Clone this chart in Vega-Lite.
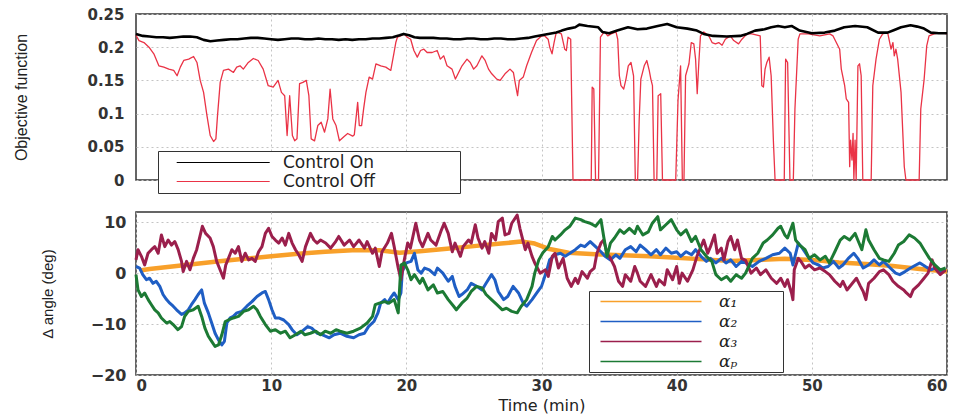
{
"$schema": "https://vega.github.io/schema/vega-lite/v6.json",
"background": "white",
"padding": {"left": 12, "top": 6, "right": 5, "bottom": 0},
"spacing": 32,
"bounds": "flush",
"config": {
  "view": {"stroke": "#333", "strokeWidth": 1.5},
  "axis": {"domain": false, "ticks": false, "grid": true, "gridColor": "#c4c4c4", "gridDash": [2, 3], "labelFont": "DejaVu Sans", "labelFontWeight": "bold", "labelFontSize": 15, "labelColor": "#333", "titleFont": "Liberation Sans", "titleFontWeight": "normal", "titleColor": "#222"}
},
"resolve": {"scale": {"color": "independent"}, "legend": {"color": "independent"}},
"datasets": {
"top": [
{"t":0,"v":0.22,"s":"Control On"},{"t":0.5,"v":0.217,"s":"Control On"},{"t":1,"v":0.216,"s":"Control On"},{"t":1.5,"v":0.215,"s":"Control On"},{"t":2,"v":0.215,"s":"Control On"},{"t":2.5,"v":0.214,"s":"Control On"},{"t":3,"v":0.215,"s":"Control On"},{"t":3.5,"v":0.216,"s":"Control On"},{"t":4,"v":0.216,"s":"Control On"},{"t":4.5,"v":0.215,"s":"Control On"},{"t":5,"v":0.211,"s":"Control On"},{"t":5.5,"v":0.209,"s":"Control On"},{"t":6,"v":0.21,"s":"Control On"},{"t":6.5,"v":0.211,"s":"Control On"},{"t":7,"v":0.212,"s":"Control On"},{"t":7.5,"v":0.212,"s":"Control On"},{"t":8,"v":0.213,"s":"Control On"},{"t":8.5,"v":0.214,"s":"Control On"},{"t":9,"v":0.214,"s":"Control On"},{"t":9.5,"v":0.213,"s":"Control On"},{"t":10,"v":0.212,"s":"Control On"},{"t":10.5,"v":0.211,"s":"Control On"},{"t":11,"v":0.212,"s":"Control On"},{"t":11.5,"v":0.213,"s":"Control On"},{"t":12,"v":0.213,"s":"Control On"},{"t":12.5,"v":0.212,"s":"Control On"},{"t":13,"v":0.212,"s":"Control On"},{"t":13.5,"v":0.213,"s":"Control On"},{"t":14,"v":0.212,"s":"Control On"},{"t":14.5,"v":0.212,"s":"Control On"},{"t":15,"v":0.211,"s":"Control On"},{"t":15.5,"v":0.212,"s":"Control On"},{"t":16,"v":0.211,"s":"Control On"},{"t":16.5,"v":0.212,"s":"Control On"},{"t":17,"v":0.212,"s":"Control On"},{"t":17.5,"v":0.213,"s":"Control On"},{"t":18,"v":0.213,"s":"Control On"},{"t":18.5,"v":0.214,"s":"Control On"},{"t":19,"v":0.215,"s":"Control On"},{"t":19.5,"v":0.218,"s":"Control On"},{"t":19.8,"v":0.22,"s":"Control On"},{"t":20.2,"v":0.218,"s":"Control On"},{"t":20.6,"v":0.215,"s":"Control On"},{"t":21,"v":0.214,"s":"Control On"},{"t":21.5,"v":0.214,"s":"Control On"},{"t":22,"v":0.214,"s":"Control On"},{"t":22.5,"v":0.213,"s":"Control On"},{"t":23,"v":0.213,"s":"Control On"},{"t":23.5,"v":0.212,"s":"Control On"},{"t":24,"v":0.212,"s":"Control On"},{"t":24.5,"v":0.213,"s":"Control On"},{"t":25,"v":0.213,"s":"Control On"},{"t":25.5,"v":0.212,"s":"Control On"},{"t":26,"v":0.212,"s":"Control On"},{"t":26.5,"v":0.213,"s":"Control On"},{"t":27,"v":0.213,"s":"Control On"},{"t":27.5,"v":0.212,"s":"Control On"},{"t":28,"v":0.212,"s":"Control On"},{"t":28.5,"v":0.213,"s":"Control On"},{"t":29,"v":0.214,"s":"Control On"},{"t":29.5,"v":0.216,"s":"Control On"},{"t":30,"v":0.218,"s":"Control On"},{"t":30.5,"v":0.22,"s":"Control On"},{"t":31.1,"v":0.222,"s":"Control On"},{"t":31.5,"v":0.225,"s":"Control On"},{"t":32,"v":0.228,"s":"Control On"},{"t":32.5,"v":0.23,"s":"Control On"},{"t":32.8,"v":0.234,"s":"Control On"},{"t":33.4,"v":0.232,"s":"Control On"},{"t":34.2,"v":0.23,"s":"Control On"},{"t":34.5,"v":0.223,"s":"Control On"},{"t":35,"v":0.221,"s":"Control On"},{"t":35.6,"v":0.225,"s":"Control On"},{"t":36.4,"v":0.23,"s":"Control On"},{"t":37.1,"v":0.227,"s":"Control On"},{"t":37.8,"v":0.228,"s":"Control On"},{"t":38.6,"v":0.232,"s":"Control On"},{"t":39.3,"v":0.235,"s":"Control On"},{"t":40,"v":0.23,"s":"Control On"},{"t":40.8,"v":0.228,"s":"Control On"},{"t":41.5,"v":0.225,"s":"Control On"},{"t":42,"v":0.22,"s":"Control On"},{"t":42.7,"v":0.217,"s":"Control On"},{"t":43.7,"v":0.216,"s":"Control On"},{"t":44.7,"v":0.217,"s":"Control On"},{"t":45.2,"v":0.22,"s":"Control On"},{"t":45.8,"v":0.225,"s":"Control On"},{"t":46.5,"v":0.227,"s":"Control On"},{"t":47,"v":0.23,"s":"Control On"},{"t":47.5,"v":0.232,"s":"Control On"},{"t":48,"v":0.23,"s":"Control On"},{"t":48.5,"v":0.232,"s":"Control On"},{"t":49.1,"v":0.225,"s":"Control On"},{"t":50,"v":0.221,"s":"Control On"},{"t":50.95,"v":0.222,"s":"Control On"},{"t":51.7,"v":0.225,"s":"Control On"},{"t":52.4,"v":0.23,"s":"Control On"},{"t":53.2,"v":0.232,"s":"Control On"},{"t":54.1,"v":0.23,"s":"Control On"},{"t":54.9,"v":0.222,"s":"Control On"},{"t":55.6,"v":0.222,"s":"Control On"},{"t":56.1,"v":0.226,"s":"Control On"},{"t":56.6,"v":0.23,"s":"Control On"},{"t":57.3,"v":0.233,"s":"Control On"},{"t":57.8,"v":0.231,"s":"Control On"},{"t":58.3,"v":0.228,"s":"Control On"},{"t":58.8,"v":0.222,"s":"Control On"},{"t":59.4,"v":0.221,"s":"Control On"},{"t":60,"v":0.221,"s":"Control On"},
{"t":0,"v":0.218,"s":"Control Off"},{"t":0.22,"v":0.21,"s":"Control Off"},{"t":0.59,"v":0.207,"s":"Control Off"},{"t":0.96,"v":0.2,"s":"Control Off"},{"t":1.32,"v":0.19,"s":"Control Off"},{"t":1.69,"v":0.172,"s":"Control Off"},{"t":2.06,"v":0.17,"s":"Control Off"},{"t":2.43,"v":0.167,"s":"Control Off"},{"t":2.79,"v":0.165,"s":"Control Off"},{"t":3.04,"v":0.157,"s":"Control Off"},{"t":3.28,"v":0.17,"s":"Control Off"},{"t":3.53,"v":0.18,"s":"Control Off"},{"t":3.9,"v":0.182,"s":"Control Off"},{"t":4.26,"v":0.186,"s":"Control Off"},{"t":4.51,"v":0.177,"s":"Control Off"},{"t":4.75,"v":0.15,"s":"Control Off"},{"t":5,"v":0.132,"s":"Control Off"},{"t":5.25,"v":0.097,"s":"Control Off"},{"t":5.49,"v":0.067,"s":"Control Off"},{"t":5.74,"v":0.058,"s":"Control Off"},{"t":5.91,"v":0.062,"s":"Control Off"},{"t":6.03,"v":0.097,"s":"Control Off"},{"t":6.23,"v":0.147,"s":"Control Off"},{"t":6.47,"v":0.165,"s":"Control Off"},{"t":6.84,"v":0.167,"s":"Control Off"},{"t":7.21,"v":0.162,"s":"Control Off"},{"t":7.45,"v":0.17,"s":"Control Off"},{"t":7.7,"v":0.172,"s":"Control Off"},{"t":7.94,"v":0.167,"s":"Control Off"},{"t":8.31,"v":0.177,"s":"Control Off"},{"t":8.68,"v":0.183,"s":"Control Off"},{"t":9.04,"v":0.18,"s":"Control Off"},{"t":9.41,"v":0.167,"s":"Control Off"},{"t":9.78,"v":0.142,"s":"Control Off"},{"t":10.15,"v":0.14,"s":"Control Off"},{"t":10.51,"v":0.15,"s":"Control Off"},{"t":10.76,"v":0.132,"s":"Control Off"},{"t":11,"v":0.127,"s":"Control Off"},{"t":11.18,"v":0.067,"s":"Control Off"},{"t":11.37,"v":0.127,"s":"Control Off"},{"t":11.57,"v":0.067,"s":"Control Off"},{"t":11.74,"v":0.059,"s":"Control Off"},{"t":11.91,"v":0.062,"s":"Control Off"},{"t":12.1,"v":0.145,"s":"Control Off"},{"t":12.35,"v":0.147,"s":"Control Off"},{"t":12.6,"v":0.15,"s":"Control Off"},{"t":12.79,"v":0.127,"s":"Control Off"},{"t":12.96,"v":0.062,"s":"Control Off"},{"t":13.21,"v":0.059,"s":"Control Off"},{"t":13.45,"v":0.082,"s":"Control Off"},{"t":13.7,"v":0.087,"s":"Control Off"},{"t":13.95,"v":0.072,"s":"Control Off"},{"t":14.19,"v":0.092,"s":"Control Off"},{"t":14.36,"v":0.137,"s":"Control Off"},{"t":14.56,"v":0.092,"s":"Control Off"},{"t":14.8,"v":0.082,"s":"Control Off"},{"t":15.05,"v":0.059,"s":"Control Off"},{"t":15.42,"v":0.066,"s":"Control Off"},{"t":15.66,"v":0.07,"s":"Control Off"},{"t":16.03,"v":0.066,"s":"Control Off"},{"t":16.15,"v":0.068,"s":"Control Off"},{"t":16.4,"v":0.117,"s":"Control Off"},{"t":16.52,"v":0.082,"s":"Control Off"},{"t":16.69,"v":0.082,"s":"Control Off"},{"t":16.84,"v":0.107,"s":"Control Off"},{"t":17.01,"v":0.132,"s":"Control Off"},{"t":17.25,"v":0.155,"s":"Control Off"},{"t":17.5,"v":0.152,"s":"Control Off"},{"t":17.75,"v":0.175,"s":"Control Off"},{"t":18.11,"v":0.172,"s":"Control Off"},{"t":18.48,"v":0.17,"s":"Control Off"},{"t":18.85,"v":0.165,"s":"Control Off"},{"t":19.09,"v":0.192,"s":"Control Off"},{"t":19.22,"v":0.207,"s":"Control Off"},{"t":19.34,"v":0.215,"s":"Control Off"},{"t":19.58,"v":0.217,"s":"Control Off"},{"t":19.83,"v":0.22,"s":"Control Off"},{"t":20.07,"v":0.215,"s":"Control Off"},{"t":20.32,"v":0.212,"s":"Control Off"},{"t":20.56,"v":0.195,"s":"Control Off"},{"t":20.81,"v":0.185,"s":"Control Off"},{"t":21.05,"v":0.195,"s":"Control Off"},{"t":21.3,"v":0.197,"s":"Control Off"},{"t":21.54,"v":0.192,"s":"Control Off"},{"t":21.91,"v":0.192,"s":"Control Off"},{"t":22.28,"v":0.195,"s":"Control Off"},{"t":22.52,"v":0.182,"s":"Control Off"},{"t":22.77,"v":0.187,"s":"Control Off"},{"t":23.01,"v":0.172,"s":"Control Off"},{"t":23.38,"v":0.167,"s":"Control Off"},{"t":23.63,"v":0.152,"s":"Control Off"},{"t":23.87,"v":0.162,"s":"Control Off"},{"t":24.12,"v":0.172,"s":"Control Off"},{"t":24.49,"v":0.182,"s":"Control Off"},{"t":24.73,"v":0.177,"s":"Control Off"},{"t":24.98,"v":0.167,"s":"Control Off"},{"t":25.22,"v":0.172,"s":"Control Off"},{"t":25.59,"v":0.187,"s":"Control Off"},{"t":25.83,"v":0.18,"s":"Control Off"},{"t":26.08,"v":0.167,"s":"Control Off"},{"t":26.32,"v":0.16,"s":"Control Off"},{"t":26.69,"v":0.152,"s":"Control Off"},{"t":26.94,"v":0.15,"s":"Control Off"},{"t":27.3,"v":0.16,"s":"Control Off"},{"t":27.67,"v":0.167,"s":"Control Off"},{"t":27.92,"v":0.162,"s":"Control Off"},{"t":28.09,"v":0.142,"s":"Control Off"},{"t":28.23,"v":0.127,"s":"Control Off"},{"t":28.36,"v":0.15,"s":"Control Off"},{"t":28.65,"v":0.155,"s":"Control Off"},{"t":28.9,"v":0.172,"s":"Control Off"},{"t":29.26,"v":0.192,"s":"Control Off"},{"t":29.63,"v":0.21,"s":"Control Off"},{"t":30,"v":0.217,"s":"Control Off"},{"t":30.24,"v":0.217,"s":"Control Off"},{"t":30.49,"v":0.212,"s":"Control Off"},{"t":30.61,"v":0.2,"s":"Control Off"},{"t":30.78,"v":0.19,"s":"Control Off"},{"t":30.93,"v":0.207,"s":"Control Off"},{"t":31.1,"v":0.223,"s":"Control Off"},{"t":31.47,"v":0.22,"s":"Control Off"},{"t":31.72,"v":0.197,"s":"Control Off"},{"t":31.84,"v":0.195,"s":"Control Off"},{"t":31.96,"v":0.215,"s":"Control Off"},{"t":32.16,"v":0.212,"s":"Control Off"},{"t":32.33,"v":0,"s":"Control Off"},{"t":33.68,"v":0,"s":"Control Off"},{"t":33.75,"v":0.14,"s":"Control Off"},{"t":33.87,"v":0.137,"s":"Control Off"},{"t":34,"v":0,"s":"Control Off"},{"t":34.22,"v":0,"s":"Control Off"},{"t":34.36,"v":0.215,"s":"Control Off"},{"t":34.53,"v":0.22,"s":"Control Off"},{"t":34.66,"v":0.223,"s":"Control Off"},{"t":34.9,"v":0.217,"s":"Control Off"},{"t":35.15,"v":0.22,"s":"Control Off"},{"t":35.51,"v":0.223,"s":"Control Off"},{"t":35.64,"v":0.212,"s":"Control Off"},{"t":35.76,"v":0.157,"s":"Control Off"},{"t":35.88,"v":0.142,"s":"Control Off"},{"t":36.08,"v":0.137,"s":"Control Off"},{"t":36.25,"v":0.152,"s":"Control Off"},{"t":36.42,"v":0.172,"s":"Control Off"},{"t":36.62,"v":0.177,"s":"Control Off"},{"t":36.81,"v":0.157,"s":"Control Off"},{"t":36.94,"v":0,"s":"Control Off"},{"t":37.11,"v":0,"s":"Control Off"},{"t":37.23,"v":0.092,"s":"Control Off"},{"t":37.35,"v":0.152,"s":"Control Off"},{"t":37.6,"v":0.172,"s":"Control Off"},{"t":37.79,"v":0.18,"s":"Control Off"},{"t":37.97,"v":0.165,"s":"Control Off"},{"t":38.09,"v":0.152,"s":"Control Off"},{"t":38.21,"v":0.142,"s":"Control Off"},{"t":38.33,"v":0,"s":"Control Off"},{"t":38.53,"v":0,"s":"Control Off"},{"t":38.63,"v":0.127,"s":"Control Off"},{"t":38.82,"v":0.13,"s":"Control Off"},{"t":38.95,"v":0,"s":"Control Off"},{"t":39.93,"v":0,"s":"Control Off"},{"t":40.1,"v":0.12,"s":"Control Off"},{"t":40.29,"v":0.172,"s":"Control Off"},{"t":40.42,"v":0,"s":"Control Off"},{"t":40.54,"v":0,"s":"Control Off"},{"t":40.66,"v":0.157,"s":"Control Off"},{"t":40.91,"v":0.175,"s":"Control Off"},{"t":41.08,"v":0.207,"s":"Control Off"},{"t":41.27,"v":0.205,"s":"Control Off"},{"t":41.4,"v":0.182,"s":"Control Off"},{"t":41.52,"v":0.13,"s":"Control Off"},{"t":41.64,"v":0.177,"s":"Control Off"},{"t":41.76,"v":0.217,"s":"Control Off"},{"t":42.01,"v":0.223,"s":"Control Off"},{"t":42.38,"v":0.217,"s":"Control Off"},{"t":42.62,"v":0.207,"s":"Control Off"},{"t":42.87,"v":0.205,"s":"Control Off"},{"t":43.11,"v":0.207,"s":"Control Off"},{"t":43.36,"v":0.203,"s":"Control Off"},{"t":43.6,"v":0.212,"s":"Control Off"},{"t":43.97,"v":0.217,"s":"Control Off"},{"t":44.22,"v":0.21,"s":"Control Off"},{"t":44.58,"v":0.205,"s":"Control Off"},{"t":44.83,"v":0.212,"s":"Control Off"},{"t":45.2,"v":0.22,"s":"Control Off"},{"t":45.56,"v":0.22,"s":"Control Off"},{"t":46.18,"v":0.217,"s":"Control Off"},{"t":46.3,"v":0.142,"s":"Control Off"},{"t":46.42,"v":0.14,"s":"Control Off"},{"t":46.54,"v":0.167,"s":"Control Off"},{"t":46.67,"v":0.177,"s":"Control Off"},{"t":46.84,"v":0.185,"s":"Control Off"},{"t":46.99,"v":0.157,"s":"Control Off"},{"t":47.16,"v":0.057,"s":"Control Off"},{"t":47.28,"v":0,"s":"Control Off"},{"t":47.96,"v":0,"s":"Control Off"},{"t":48.06,"v":0.182,"s":"Control Off"},{"t":48.21,"v":0.177,"s":"Control Off"},{"t":48.38,"v":0,"s":"Control Off"},{"t":48.63,"v":0,"s":"Control Off"},{"t":48.75,"v":0.107,"s":"Control Off"},{"t":48.99,"v":0.212,"s":"Control Off"},{"t":49.12,"v":0.22,"s":"Control Off"},{"t":49.73,"v":0.22,"s":"Control Off"},{"t":50.59,"v":0.217,"s":"Control Off"},{"t":51.32,"v":0.22,"s":"Control Off"},{"t":51.57,"v":0.217,"s":"Control Off"},{"t":51.81,"v":0.207,"s":"Control Off"},{"t":52.06,"v":0.197,"s":"Control Off"},{"t":52.18,"v":0.167,"s":"Control Off"},{"t":52.43,"v":0.142,"s":"Control Off"},{"t":52.55,"v":0.122,"s":"Control Off"},{"t":52.72,"v":0.117,"s":"Control Off"},{"t":52.8,"v":0.02,"s":"Control Off"},{"t":52.87,"v":0.06,"s":"Control Off"},{"t":52.97,"v":0.03,"s":"Control Off"},{"t":53.05,"v":0.07,"s":"Control Off"},{"t":53.11,"v":0,"s":"Control Off"},{"t":53.2,"v":0.06,"s":"Control Off"},{"t":53.28,"v":0,"s":"Control Off"},{"t":53.41,"v":0.172,"s":"Control Off"},{"t":53.53,"v":0.175,"s":"Control Off"},{"t":53.65,"v":0.157,"s":"Control Off"},{"t":53.77,"v":0,"s":"Control Off"},{"t":54.39,"v":0,"s":"Control Off"},{"t":54.51,"v":0.142,"s":"Control Off"},{"t":54.75,"v":0.182,"s":"Control Off"},{"t":55,"v":0.212,"s":"Control Off"},{"t":55.24,"v":0.22,"s":"Control Off"},{"t":55.61,"v":0.222,"s":"Control Off"},{"t":55.86,"v":0.197,"s":"Control Off"},{"t":56,"v":0.207,"s":"Control Off"},{"t":56.1,"v":0.187,"s":"Control Off"},{"t":56.22,"v":0.197,"s":"Control Off"},{"t":56.35,"v":0.182,"s":"Control Off"},{"t":56.6,"v":0.132,"s":"Control Off"},{"t":56.84,"v":0.02,"s":"Control Off"},{"t":56.96,"v":0,"s":"Control Off"},{"t":57.94,"v":0,"s":"Control Off"},{"t":58.06,"v":0.107,"s":"Control Off"},{"t":58.31,"v":0.152,"s":"Control Off"},{"t":58.5,"v":0.202,"s":"Control Off"},{"t":58.67,"v":0.217,"s":"Control Off"},{"t":59.04,"v":0.22,"s":"Control Off"},{"t":59.53,"v":0.222,"s":"Control Off"},{"t":60,"v":0.22,"s":"Control Off"}
],
"bot": [
{"t":0.3,"v":0.5,"s":"α₁"},{"t":1,"v":0.8,"s":"α₁"},{"t":2,"v":1.1,"s":"α₁"},{"t":4,"v":1.7,"s":"α₁"},{"t":6,"v":2.3,"s":"α₁"},{"t":8,"v":2.8,"s":"α₁"},{"t":10,"v":3.3,"s":"α₁"},{"t":12,"v":3.8,"s":"α₁"},{"t":14,"v":4.2,"s":"α₁"},{"t":16,"v":4.5,"s":"α₁"},{"t":18,"v":4.5,"s":"α₁"},{"t":19.5,"v":4.0,"s":"α₁"},{"t":21,"v":4.3,"s":"α₁"},{"t":23,"v":4.8,"s":"α₁"},{"t":25,"v":5.3,"s":"α₁"},{"t":27,"v":5.8,"s":"α₁"},{"t":28.5,"v":6.2,"s":"α₁"},{"t":29.5,"v":5.8,"s":"α₁"},{"t":30.5,"v":4.8,"s":"α₁"},{"t":32,"v":4.0,"s":"α₁"},{"t":34,"v":3.7,"s":"α₁"},{"t":36,"v":3.5,"s":"α₁"},{"t":38,"v":3.3,"s":"α₁"},{"t":40,"v":3.0,"s":"α₁"},{"t":42,"v":2.7,"s":"α₁"},{"t":44,"v":2.4,"s":"α₁"},{"t":46,"v":2.6,"s":"α₁"},{"t":48,"v":2.8,"s":"α₁"},{"t":50,"v":2.6,"s":"α₁"},{"t":52,"v":2.1,"s":"α₁"},{"t":54,"v":1.8,"s":"α₁"},{"t":56,"v":1.4,"s":"α₁"},{"t":58,"v":0.8,"s":"α₁"},{"t":60,"v":0.3,"s":"α₁"},
{"t":0,"v":1.3,"s":"α₂"},{"t":0.27,"v":1.0,"s":"α₂"},{"t":0.5,"v":-0.3,"s":"α₂"},{"t":0.77,"v":-1.3,"s":"α₂"},{"t":1.0,"v":-1.0,"s":"α₂"},{"t":1.26,"v":-2.0,"s":"α₂"},{"t":1.5,"v":-1.6,"s":"α₂"},{"t":1.76,"v":-2.6,"s":"α₂"},{"t":2.0,"v":-4.2,"s":"α₂"},{"t":2.26,"v":-5.2,"s":"α₂"},{"t":2.5,"v":-5.9,"s":"α₂"},{"t":2.75,"v":-6.5,"s":"α₂"},{"t":3.0,"v":-7.2,"s":"α₂"},{"t":3.37,"v":-8.1,"s":"α₂"},{"t":3.6,"v":-7.8,"s":"α₂"},{"t":3.87,"v":-7.2,"s":"α₂"},{"t":4.1,"v":-6.2,"s":"α₂"},{"t":4.36,"v":-5.2,"s":"α₂"},{"t":4.6,"v":-4.2,"s":"α₂"},{"t":4.86,"v":-3.3,"s":"α₂"},{"t":5.06,"v":-5.9,"s":"α₂"},{"t":5.35,"v":-7.8,"s":"α₂"},{"t":5.6,"v":-9.8,"s":"α₂"},{"t":5.85,"v":-11.8,"s":"α₂"},{"t":6.1,"v":-13.1,"s":"α₂"},{"t":6.35,"v":-14.1,"s":"α₂"},{"t":6.54,"v":-13.4,"s":"α₂"},{"t":6.72,"v":-9.8,"s":"α₂"},{"t":6.97,"v":-8.8,"s":"α₂"},{"t":7.2,"v":-8.5,"s":"α₂"},{"t":7.46,"v":-7.8,"s":"α₂"},{"t":7.83,"v":-7.5,"s":"α₂"},{"t":8.2,"v":-6.5,"s":"α₂"},{"t":8.58,"v":-5.6,"s":"α₂"},{"t":8.95,"v":-4.6,"s":"α₂"},{"t":9.32,"v":-3.9,"s":"α₂"},{"t":9.57,"v":-3.6,"s":"α₂"},{"t":9.81,"v":-5.2,"s":"α₂"},{"t":10.06,"v":-7.2,"s":"α₂"},{"t":10.31,"v":-8.8,"s":"α₂"},{"t":10.56,"v":-8.8,"s":"α₂"},{"t":10.93,"v":-9.2,"s":"α₂"},{"t":11.3,"v":-10.1,"s":"α₂"},{"t":11.55,"v":-11.1,"s":"α₂"},{"t":11.9,"v":-12.1,"s":"α₂"},{"t":12.3,"v":-11.4,"s":"α₂"},{"t":12.7,"v":-10.5,"s":"α₂"},{"t":13.0,"v":-10.8,"s":"α₂"},{"t":13.4,"v":-11.8,"s":"α₂"},{"t":13.8,"v":-12.1,"s":"α₂"},{"t":14.3,"v":-12.7,"s":"α₂"},{"t":14.65,"v":-12.1,"s":"α₂"},{"t":15.1,"v":-11.8,"s":"α₂"},{"t":15.6,"v":-12.4,"s":"α₂"},{"t":16.1,"v":-12.7,"s":"α₂"},{"t":16.5,"v":-12.1,"s":"α₂"},{"t":16.9,"v":-11.8,"s":"α₂"},{"t":17.2,"v":-10.5,"s":"α₂"},{"t":17.6,"v":-9.5,"s":"α₂"},{"t":17.9,"v":-7.8,"s":"α₂"},{"t":18.1,"v":-5.9,"s":"α₂"},{"t":18.4,"v":-5.2,"s":"α₂"},{"t":18.6,"v":-5.9,"s":"α₂"},{"t":18.9,"v":-4.6,"s":"α₂"},{"t":19.1,"v":-3.9,"s":"α₂"},{"t":19.4,"v":-5.2,"s":"α₂"},{"t":19.6,"v":-3.9,"s":"α₂"},{"t":19.7,"v":0.3,"s":"α₂"},{"t":20.0,"v":2.0,"s":"α₂"},{"t":20.35,"v":2.3,"s":"α₂"},{"t":20.6,"v":3.9,"s":"α₂"},{"t":20.85,"v":0.65,"s":"α₂"},{"t":21.1,"v":0,"s":"α₂"},{"t":21.35,"v":1.0,"s":"α₂"},{"t":21.7,"v":0.65,"s":"α₂"},{"t":22.1,"v":-0.3,"s":"α₂"},{"t":22.3,"v":1.0,"s":"α₂"},{"t":22.7,"v":0,"s":"α₂"},{"t":23.1,"v":-1.6,"s":"α₂"},{"t":23.4,"v":-0.65,"s":"α₂"},{"t":23.6,"v":-2.6,"s":"α₂"},{"t":23.9,"v":-4.6,"s":"α₂"},{"t":24.1,"v":-4.2,"s":"α₂"},{"t":24.5,"v":-3.3,"s":"α₂"},{"t":24.8,"v":-2.0,"s":"α₂"},{"t":25.2,"v":-2.6,"s":"α₂"},{"t":25.6,"v":-3.3,"s":"α₂"},{"t":25.9,"v":-2.0,"s":"α₂"},{"t":26.3,"v":-0.3,"s":"α₂"},{"t":26.55,"v":-1.3,"s":"α₂"},{"t":26.8,"v":-3.6,"s":"α₂"},{"t":27.2,"v":-5.2,"s":"α₂"},{"t":27.5,"v":-4.6,"s":"α₂"},{"t":27.9,"v":-2.6,"s":"α₂"},{"t":28.3,"v":-3.9,"s":"α₂"},{"t":28.65,"v":-5.9,"s":"α₂"},{"t":28.9,"v":-6.5,"s":"α₂"},{"t":29.3,"v":-5.2,"s":"α₂"},{"t":29.65,"v":-3.9,"s":"α₂"},{"t":30.0,"v":-2.6,"s":"α₂"},{"t":30.2,"v":-1.0,"s":"α₂"},{"t":30.4,"v":0.65,"s":"α₂"},{"t":30.6,"v":2.6,"s":"α₂"},{"t":31.0,"v":3.6,"s":"α₂"},{"t":31.4,"v":3.9,"s":"α₂"},{"t":31.75,"v":3.3,"s":"α₂"},{"t":32.1,"v":3.9,"s":"α₂"},{"t":32.5,"v":4.6,"s":"α₂"},{"t":32.9,"v":5.5,"s":"α₂"},{"t":33.2,"v":5.2,"s":"α₂"},{"t":33.6,"v":6.2,"s":"α₂"},{"t":34.0,"v":5.2,"s":"α₂"},{"t":34.4,"v":4.2,"s":"α₂"},{"t":34.7,"v":3.3,"s":"α₂"},{"t":35.1,"v":2.6,"s":"α₂"},{"t":35.5,"v":3.6,"s":"α₂"},{"t":35.8,"v":2.9,"s":"α₂"},{"t":36.2,"v":4.6,"s":"α₂"},{"t":36.6,"v":5.2,"s":"α₂"},{"t":37.0,"v":4.2,"s":"α₂"},{"t":37.3,"v":5.5,"s":"α₂"},{"t":37.7,"v":4.6,"s":"α₂"},{"t":38.1,"v":3.6,"s":"α₂"},{"t":38.5,"v":4.6,"s":"α₂"},{"t":38.8,"v":3.6,"s":"α₂"},{"t":39.2,"v":4.9,"s":"α₂"},{"t":39.6,"v":3.9,"s":"α₂"},{"t":40.0,"v":4.2,"s":"α₂"},{"t":40.3,"v":3.3,"s":"α₂"},{"t":40.7,"v":4.2,"s":"α₂"},{"t":41.1,"v":3.6,"s":"α₂"},{"t":41.4,"v":4.6,"s":"α₂"},{"t":41.8,"v":3.3,"s":"α₂"},{"t":42.2,"v":2.3,"s":"α₂"},{"t":42.5,"v":2.9,"s":"α₂"},{"t":42.9,"v":2.0,"s":"α₂"},{"t":43.3,"v":2.9,"s":"α₂"},{"t":43.65,"v":2.0,"s":"α₂"},{"t":44.0,"v":2.6,"s":"α₂"},{"t":44.4,"v":1.3,"s":"α₂"},{"t":44.8,"v":2.3,"s":"α₂"},{"t":45.1,"v":2.0,"s":"α₂"},{"t":45.6,"v":1.3,"s":"α₂"},{"t":46.1,"v":2.3,"s":"α₂"},{"t":46.6,"v":2.9,"s":"α₂"},{"t":47.1,"v":3.6,"s":"α₂"},{"t":47.6,"v":3.9,"s":"α₂"},{"t":48.0,"v":4.9,"s":"α₂"},{"t":48.4,"v":3.9,"s":"α₂"},{"t":48.6,"v":1.6,"s":"α₂"},{"t":49.0,"v":5.9,"s":"α₂"},{"t":49.3,"v":4.9,"s":"α₂"},{"t":49.7,"v":3.3,"s":"α₂"},{"t":50.1,"v":2.0,"s":"α₂"},{"t":50.5,"v":1.6,"s":"α₂"},{"t":50.8,"v":1.0,"s":"α₂"},{"t":51.2,"v":1.3,"s":"α₂"},{"t":51.6,"v":2.3,"s":"α₂"},{"t":52.0,"v":1.0,"s":"α₂"},{"t":52.3,"v":1.6,"s":"α₂"},{"t":52.7,"v":2.9,"s":"α₂"},{"t":53.1,"v":3.9,"s":"α₂"},{"t":53.4,"v":2.9,"s":"α₂"},{"t":53.8,"v":1.0,"s":"α₂"},{"t":54.2,"v":1.6,"s":"α₂"},{"t":54.6,"v":2.6,"s":"α₂"},{"t":55.0,"v":1.6,"s":"α₂"},{"t":55.3,"v":2.3,"s":"α₂"},{"t":55.8,"v":1.0,"s":"α₂"},{"t":56.2,"v":0,"s":"α₂"},{"t":56.5,"v":-0.3,"s":"α₂"},{"t":56.9,"v":0.3,"s":"α₂"},{"t":57.3,"v":1.0,"s":"α₂"},{"t":57.7,"v":1.6,"s":"α₂"},{"t":58.0,"v":2.0,"s":"α₂"},{"t":58.4,"v":1.3,"s":"α₂"},{"t":58.8,"v":0.65,"s":"α₂"},{"t":59.1,"v":1.0,"s":"α₂"},{"t":59.5,"v":0.3,"s":"α₂"},{"t":59.9,"v":0.65,"s":"α₂"},
{"t":0,"v":2.6,"s":"α₃"},{"t":0.15,"v":4.6,"s":"α₃"},{"t":0.4,"v":3.3,"s":"α₃"},{"t":0.64,"v":1.6,"s":"α₃"},{"t":0.89,"v":3.9,"s":"α₃"},{"t":1.14,"v":4.6,"s":"α₃"},{"t":1.39,"v":5.2,"s":"α₃"},{"t":1.64,"v":3.9,"s":"α₃"},{"t":1.88,"v":7.5,"s":"α₃"},{"t":2.13,"v":5.2,"s":"α₃"},{"t":2.38,"v":6.5,"s":"α₃"},{"t":2.63,"v":5.5,"s":"α₃"},{"t":2.87,"v":6.2,"s":"α₃"},{"t":3.12,"v":4.6,"s":"α₃"},{"t":3.37,"v":2.3,"s":"α₃"},{"t":3.49,"v":0.3,"s":"α₃"},{"t":3.74,"v":2.3,"s":"α₃"},{"t":3.99,"v":0.65,"s":"α₃"},{"t":4.24,"v":2.9,"s":"α₃"},{"t":4.49,"v":4.6,"s":"α₃"},{"t":4.73,"v":7.2,"s":"α₃"},{"t":4.91,"v":9.2,"s":"α₃"},{"t":5.15,"v":7.8,"s":"α₃"},{"t":5.48,"v":6.9,"s":"α₃"},{"t":5.72,"v":5.2,"s":"α₃"},{"t":5.97,"v":2.3,"s":"α₃"},{"t":6.22,"v":0.65,"s":"α₃"},{"t":6.47,"v":-1,"s":"α₃"},{"t":6.64,"v":1.6,"s":"α₃"},{"t":6.84,"v":2.9,"s":"α₃"},{"t":7.09,"v":4.6,"s":"α₃"},{"t":7.34,"v":3.9,"s":"α₃"},{"t":7.58,"v":5.2,"s":"α₃"},{"t":7.83,"v":2.3,"s":"α₃"},{"t":8.08,"v":3.9,"s":"α₃"},{"t":8.33,"v":2.6,"s":"α₃"},{"t":8.58,"v":2.9,"s":"α₃"},{"t":8.82,"v":2.3,"s":"α₃"},{"t":9.07,"v":4.2,"s":"α₃"},{"t":9.32,"v":5.2,"s":"α₃"},{"t":9.57,"v":7.8,"s":"α₃"},{"t":9.81,"v":8.8,"s":"α₃"},{"t":10.06,"v":7.2,"s":"α₃"},{"t":10.31,"v":6.5,"s":"α₃"},{"t":10.56,"v":5.9,"s":"α₃"},{"t":10.81,"v":6.9,"s":"α₃"},{"t":11.05,"v":5.5,"s":"α₃"},{"t":11.3,"v":7.8,"s":"α₃"},{"t":11.55,"v":5.9,"s":"α₃"},{"t":11.8,"v":4.6,"s":"α₃"},{"t":12.04,"v":3.6,"s":"α₃"},{"t":12.29,"v":2.3,"s":"α₃"},{"t":12.54,"v":5.2,"s":"α₃"},{"t":12.91,"v":7.8,"s":"α₃"},{"t":13.16,"v":6.5,"s":"α₃"},{"t":13.4,"v":5.9,"s":"α₃"},{"t":13.65,"v":6.5,"s":"α₃"},{"t":14.03,"v":5.9,"s":"α₃"},{"t":14.4,"v":4.9,"s":"α₃"},{"t":14.77,"v":6.2,"s":"α₃"},{"t":15.0,"v":7.2,"s":"α₃"},{"t":15.4,"v":5.5,"s":"α₃"},{"t":15.8,"v":6.5,"s":"α₃"},{"t":16.1,"v":5.2,"s":"α₃"},{"t":16.5,"v":6.5,"s":"α₃"},{"t":16.9,"v":4.9,"s":"α₃"},{"t":17.1,"v":6.2,"s":"α₃"},{"t":17.5,"v":3.9,"s":"α₃"},{"t":17.7,"v":4.9,"s":"α₃"},{"t":18.0,"v":1.3,"s":"α₃"},{"t":18.2,"v":4.2,"s":"α₃"},{"t":18.6,"v":5.9,"s":"α₃"},{"t":18.9,"v":7.8,"s":"α₃"},{"t":19.1,"v":5.2,"s":"α₃"},{"t":19.4,"v":1.0,"s":"α₃"},{"t":19.6,"v":-1.3,"s":"α₃"},{"t":19.85,"v":2.6,"s":"α₃"},{"t":20.1,"v":5.9,"s":"α₃"},{"t":20.3,"v":4.9,"s":"α₃"},{"t":20.7,"v":9.8,"s":"α₃"},{"t":20.97,"v":6.5,"s":"α₃"},{"t":21.2,"v":5.2,"s":"α₃"},{"t":21.6,"v":7.8,"s":"α₃"},{"t":21.8,"v":6.5,"s":"α₃"},{"t":22.2,"v":5.5,"s":"α₃"},{"t":22.6,"v":8.5,"s":"α₃"},{"t":22.8,"v":9.8,"s":"α₃"},{"t":23.1,"v":7.8,"s":"α₃"},{"t":23.4,"v":4.2,"s":"α₃"},{"t":23.6,"v":5.9,"s":"α₃"},{"t":24.0,"v":3.3,"s":"α₃"},{"t":24.2,"v":5.2,"s":"α₃"},{"t":24.6,"v":6.5,"s":"α₃"},{"t":24.8,"v":5.9,"s":"α₃"},{"t":25.1,"v":9.5,"s":"α₃"},{"t":25.3,"v":6.9,"s":"α₃"},{"t":25.6,"v":4.9,"s":"α₃"},{"t":25.8,"v":6.2,"s":"α₃"},{"t":26.1,"v":3.9,"s":"α₃"},{"t":26.3,"v":7.8,"s":"α₃"},{"t":26.6,"v":6.5,"s":"α₃"},{"t":26.8,"v":10.1,"s":"α₃"},{"t":27.1,"v":10.8,"s":"α₃"},{"t":27.3,"v":7.5,"s":"α₃"},{"t":27.6,"v":7.8,"s":"α₃"},{"t":27.8,"v":9.8,"s":"α₃"},{"t":28.2,"v":11.4,"s":"α₃"},{"t":28.4,"v":8.8,"s":"α₃"},{"t":28.8,"v":4.6,"s":"α₃"},{"t":29.0,"v":5.9,"s":"α₃"},{"t":29.3,"v":3.3,"s":"α₃"},{"t":29.5,"v":2.0,"s":"α₃"},{"t":29.9,"v":0.0,"s":"α₃"},{"t":30.3,"v":0.65,"s":"α₃"},{"t":30.5,"v":-0.65,"s":"α₃"},{"t":30.8,"v":3.3,"s":"α₃"},{"t":31.0,"v":3.9,"s":"α₃"},{"t":31.25,"v":1.0,"s":"α₃"},{"t":31.6,"v":2.9,"s":"α₃"},{"t":31.9,"v":-1.0,"s":"α₃"},{"t":32.2,"v":-2.6,"s":"α₃"},{"t":32.5,"v":-1.0,"s":"α₃"},{"t":32.7,"v":-2.0,"s":"α₃"},{"t":33.0,"v":0.3,"s":"α₃"},{"t":33.4,"v":-1.0,"s":"α₃"},{"t":33.6,"v":0.3,"s":"α₃"},{"t":33.9,"v":1.0,"s":"α₃"},{"t":34.1,"v":3.9,"s":"α₃"},{"t":34.4,"v":5.9,"s":"α₃"},{"t":34.6,"v":6.5,"s":"α₃"},{"t":34.85,"v":3.9,"s":"α₃"},{"t":35.1,"v":2.9,"s":"α₃"},{"t":35.4,"v":1.3,"s":"α₃"},{"t":35.7,"v":-1.6,"s":"α₃"},{"t":36.0,"v":-2.6,"s":"α₃"},{"t":36.2,"v":-0.3,"s":"α₃"},{"t":36.6,"v":-1.6,"s":"α₃"},{"t":36.9,"v":1.3,"s":"α₃"},{"t":37.1,"v":0.0,"s":"α₃"},{"t":37.3,"v":-1.6,"s":"α₃"},{"t":37.7,"v":-2.6,"s":"α₃"},{"t":38.1,"v":-0.3,"s":"α₃"},{"t":38.5,"v":-2.6,"s":"α₃"},{"t":38.7,"v":-1.3,"s":"α₃"},{"t":39.1,"v":-2.3,"s":"α₃"},{"t":39.3,"v":0.65,"s":"α₃"},{"t":39.7,"v":-1.3,"s":"α₃"},{"t":40.0,"v":1.3,"s":"α₃"},{"t":40.2,"v":-2.0,"s":"α₃"},{"t":40.4,"v":0,"s":"α₃"},{"t":40.8,"v":-1.6,"s":"α₃"},{"t":41.2,"v":0.65,"s":"α₃"},{"t":41.5,"v":3.3,"s":"α₃"},{"t":41.8,"v":5.2,"s":"α₃"},{"t":42.0,"v":6.5,"s":"α₃"},{"t":42.3,"v":3.9,"s":"α₃"},{"t":42.5,"v":5.2,"s":"α₃"},{"t":42.8,"v":7.5,"s":"α₃"},{"t":43.0,"v":3.9,"s":"α₃"},{"t":43.3,"v":4.9,"s":"α₃"},{"t":43.5,"v":2.6,"s":"α₃"},{"t":43.8,"v":6.2,"s":"α₃"},{"t":44.0,"v":7.2,"s":"α₃"},{"t":44.3,"v":4.6,"s":"α₃"},{"t":44.5,"v":6.5,"s":"α₃"},{"t":44.8,"v":2.9,"s":"α₃"},{"t":45.1,"v":2.5,"s":"α₃"},{"t":45.5,"v":0,"s":"α₃"},{"t":45.9,"v":1.0,"s":"α₃"},{"t":46.2,"v":-0.3,"s":"α₃"},{"t":46.6,"v":0.65,"s":"α₃"},{"t":47.0,"v":-1.0,"s":"α₃"},{"t":47.4,"v":-2.0,"s":"α₃"},{"t":47.7,"v":-1.0,"s":"α₃"},{"t":48.0,"v":-2.6,"s":"α₃"},{"t":48.2,"v":-1.3,"s":"α₃"},{"t":48.5,"v":-3.9,"s":"α₃"},{"t":48.6,"v":-5.2,"s":"α₃"},{"t":48.7,"v":0.65,"s":"α₃"},{"t":49.0,"v":2.9,"s":"α₃"},{"t":49.2,"v":2.3,"s":"α₃"},{"t":49.5,"v":1.0,"s":"α₃"},{"t":49.8,"v":1.6,"s":"α₃"},{"t":50.2,"v":0.65,"s":"α₃"},{"t":50.6,"v":1.0,"s":"α₃"},{"t":51.0,"v":0.3,"s":"α₃"},{"t":51.3,"v":-0.3,"s":"α₃"},{"t":51.7,"v":-1.6,"s":"α₃"},{"t":52.1,"v":-2.6,"s":"α₃"},{"t":52.3,"v":-1.6,"s":"α₃"},{"t":52.6,"v":-3.3,"s":"α₃"},{"t":53.0,"v":-2.0,"s":"α₃"},{"t":53.3,"v":-1.0,"s":"α₃"},{"t":53.6,"v":-2.6,"s":"α₃"},{"t":53.8,"v":-3.6,"s":"α₃"},{"t":54.0,"v":-5.2,"s":"α₃"},{"t":54.2,"v":-2.0,"s":"α₃"},{"t":54.6,"v":-1.0,"s":"α₃"},{"t":55.0,"v":0.3,"s":"α₃"},{"t":55.3,"v":0.65,"s":"α₃"},{"t":55.7,"v":-0.3,"s":"α₃"},{"t":56.0,"v":-1.6,"s":"α₃"},{"t":56.4,"v":-2.6,"s":"α₃"},{"t":56.8,"v":-3.3,"s":"α₃"},{"t":57.0,"v":-3.9,"s":"α₃"},{"t":57.3,"v":-4.6,"s":"α₃"},{"t":57.5,"v":-3.3,"s":"α₃"},{"t":57.9,"v":-2.3,"s":"α₃"},{"t":58.3,"v":-1.0,"s":"α₃"},{"t":58.6,"v":0,"s":"α₃"},{"t":58.9,"v":2.6,"s":"α₃"},{"t":59.1,"v":1.0,"s":"α₃"},{"t":59.5,"v":-0.3,"s":"α₃"},{"t":59.9,"v":0.65,"s":"α₃"},
{"t":0,"v":-0.3,"s":"αₚ"},{"t":0.15,"v":-3.3,"s":"αₚ"},{"t":0.4,"v":-4.6,"s":"αₚ"},{"t":0.64,"v":-3.9,"s":"αₚ"},{"t":0.9,"v":-5.2,"s":"αₚ"},{"t":1.14,"v":-6.2,"s":"αₚ"},{"t":1.39,"v":-7.2,"s":"αₚ"},{"t":1.64,"v":-7.8,"s":"αₚ"},{"t":1.88,"v":-8.8,"s":"αₚ"},{"t":2.26,"v":-9.8,"s":"αₚ"},{"t":2.5,"v":-9.5,"s":"αₚ"},{"t":2.75,"v":-10.1,"s":"αₚ"},{"t":3.1,"v":-11.1,"s":"αₚ"},{"t":3.37,"v":-10.5,"s":"αₚ"},{"t":3.6,"v":-8.5,"s":"αₚ"},{"t":3.87,"v":-7.5,"s":"αₚ"},{"t":4.24,"v":-7.2,"s":"αₚ"},{"t":4.6,"v":-6.5,"s":"αₚ"},{"t":4.86,"v":-8.5,"s":"αₚ"},{"t":5.1,"v":-10.8,"s":"αₚ"},{"t":5.35,"v":-12.4,"s":"αₚ"},{"t":5.6,"v":-13.4,"s":"αₚ"},{"t":5.85,"v":-14.4,"s":"αₚ"},{"t":6.1,"v":-14.1,"s":"αₚ"},{"t":6.35,"v":-12.1,"s":"αₚ"},{"t":6.6,"v":-9.5,"s":"αₚ"},{"t":6.84,"v":-9.2,"s":"αₚ"},{"t":7.2,"v":-8.8,"s":"αₚ"},{"t":7.58,"v":-8.5,"s":"αₚ"},{"t":7.96,"v":-7.5,"s":"αₚ"},{"t":8.33,"v":-7.2,"s":"αₚ"},{"t":8.7,"v":-6.5,"s":"αₚ"},{"t":8.95,"v":-7.2,"s":"αₚ"},{"t":9.2,"v":-8.5,"s":"αₚ"},{"t":9.57,"v":-10.1,"s":"αₚ"},{"t":9.94,"v":-11.4,"s":"αₚ"},{"t":10.31,"v":-11.1,"s":"αₚ"},{"t":10.7,"v":-11.8,"s":"αₚ"},{"t":11.05,"v":-11.4,"s":"αₚ"},{"t":11.4,"v":-12.7,"s":"αₚ"},{"t":11.8,"v":-12.1,"s":"αₚ"},{"t":12.2,"v":-11.4,"s":"αₚ"},{"t":12.5,"v":-12.1,"s":"αₚ"},{"t":12.9,"v":-11.8,"s":"αₚ"},{"t":13.3,"v":-11.4,"s":"αₚ"},{"t":13.65,"v":-12.1,"s":"αₚ"},{"t":14.0,"v":-11.4,"s":"αₚ"},{"t":14.4,"v":-11.8,"s":"αₚ"},{"t":14.8,"v":-11.1,"s":"αₚ"},{"t":15.1,"v":-11.4,"s":"αₚ"},{"t":15.6,"v":-11.8,"s":"αₚ"},{"t":16.1,"v":-11.4,"s":"αₚ"},{"t":16.6,"v":-10.8,"s":"αₚ"},{"t":17.1,"v":-9.8,"s":"αₚ"},{"t":17.5,"v":-8.5,"s":"αₚ"},{"t":17.7,"v":-6.2,"s":"αₚ"},{"t":18.0,"v":-5.9,"s":"αₚ"},{"t":18.4,"v":-5.6,"s":"αₚ"},{"t":18.7,"v":-5.9,"s":"αₚ"},{"t":19.1,"v":-5.2,"s":"αₚ"},{"t":19.4,"v":-7.8,"s":"αₚ"},{"t":19.6,"v":1.6,"s":"αₚ"},{"t":19.85,"v":2.0,"s":"αₚ"},{"t":20.1,"v":0.65,"s":"αₚ"},{"t":20.35,"v":-1.3,"s":"αₚ"},{"t":20.6,"v":-0.3,"s":"αₚ"},{"t":21.0,"v":-2.0,"s":"αₚ"},{"t":21.2,"v":-1.0,"s":"αₚ"},{"t":21.6,"v":-3.3,"s":"αₚ"},{"t":22.0,"v":-2.3,"s":"αₚ"},{"t":22.3,"v":-3.9,"s":"αₚ"},{"t":22.7,"v":-3.6,"s":"αₚ"},{"t":23.1,"v":-5.2,"s":"αₚ"},{"t":23.5,"v":-6.5,"s":"αₚ"},{"t":23.7,"v":-7.2,"s":"αₚ"},{"t":24.1,"v":-5.9,"s":"αₚ"},{"t":24.5,"v":-4.9,"s":"αₚ"},{"t":24.8,"v":-3.6,"s":"αₚ"},{"t":25.2,"v":-2.6,"s":"αₚ"},{"t":25.6,"v":-2.9,"s":"αₚ"},{"t":25.9,"v":-4.2,"s":"αₚ"},{"t":26.3,"v":-5.2,"s":"αₚ"},{"t":26.7,"v":-6.2,"s":"αₚ"},{"t":27.1,"v":-7.2,"s":"αₚ"},{"t":27.4,"v":-6.9,"s":"αₚ"},{"t":27.8,"v":-7.5,"s":"αₚ"},{"t":28.2,"v":-7.8,"s":"αₚ"},{"t":28.5,"v":-6.5,"s":"αₚ"},{"t":28.9,"v":-5.2,"s":"αₚ"},{"t":29.3,"v":-2.6,"s":"αₚ"},{"t":29.5,"v":0,"s":"αₚ"},{"t":29.8,"v":2.6,"s":"αₚ"},{"t":30.1,"v":4.0,"s":"αₚ"},{"t":30.5,"v":5.2,"s":"αₚ"},{"t":30.8,"v":7.2,"s":"αₚ"},{"t":31.0,"v":6.5,"s":"αₚ"},{"t":31.4,"v":7.5,"s":"αₚ"},{"t":31.75,"v":8.5,"s":"αₚ"},{"t":32.1,"v":9.2,"s":"αₚ"},{"t":32.5,"v":10.8,"s":"αₚ"},{"t":32.9,"v":10.5,"s":"αₚ"},{"t":33.2,"v":10.1,"s":"αₚ"},{"t":33.6,"v":9.8,"s":"αₚ"},{"t":34.0,"v":9.2,"s":"αₚ"},{"t":34.4,"v":10.5,"s":"αₚ"},{"t":34.6,"v":7.2,"s":"αₚ"},{"t":34.85,"v":3.3,"s":"αₚ"},{"t":35.1,"v":5.9,"s":"αₚ"},{"t":35.4,"v":6.9,"s":"αₚ"},{"t":35.8,"v":8.5,"s":"αₚ"},{"t":36.1,"v":7.8,"s":"αₚ"},{"t":36.5,"v":8.8,"s":"αₚ"},{"t":36.9,"v":7.8,"s":"αₚ"},{"t":37.1,"v":9.2,"s":"αₚ"},{"t":37.5,"v":7.5,"s":"αₚ"},{"t":37.9,"v":8.1,"s":"αₚ"},{"t":38.2,"v":9.8,"s":"αₚ"},{"t":38.6,"v":11.1,"s":"αₚ"},{"t":38.8,"v":8.5,"s":"αₚ"},{"t":39.2,"v":9.5,"s":"αₚ"},{"t":39.6,"v":10.5,"s":"αₚ"},{"t":40.0,"v":8.5,"s":"αₚ"},{"t":40.3,"v":7.5,"s":"αₚ"},{"t":40.7,"v":8.5,"s":"αₚ"},{"t":41.1,"v":6.2,"s":"αₚ"},{"t":41.4,"v":7.2,"s":"αₚ"},{"t":41.8,"v":4.6,"s":"αₚ"},{"t":42.2,"v":3.3,"s":"αₚ"},{"t":42.6,"v":2.3,"s":"αₚ"},{"t":42.9,"v":-0.3,"s":"αₚ"},{"t":43.3,"v":-1.3,"s":"αₚ"},{"t":43.7,"v":-0.65,"s":"αₚ"},{"t":44.0,"v":-1.6,"s":"αₚ"},{"t":44.4,"v":-0.3,"s":"αₚ"},{"t":44.8,"v":-1.0,"s":"αₚ"},{"t":45.1,"v":0,"s":"αₚ"},{"t":45.6,"v":2.9,"s":"αₚ"},{"t":46.0,"v":3.9,"s":"αₚ"},{"t":46.4,"v":5.9,"s":"αₚ"},{"t":46.7,"v":6.5,"s":"αₚ"},{"t":47.1,"v":7.5,"s":"αₚ"},{"t":47.5,"v":8.8,"s":"αₚ"},{"t":47.7,"v":9.2,"s":"αₚ"},{"t":48.0,"v":7.5,"s":"αₚ"},{"t":48.2,"v":6.9,"s":"αₚ"},{"t":48.6,"v":9.8,"s":"αₚ"},{"t":48.8,"v":6.5,"s":"αₚ"},{"t":49.1,"v":5.5,"s":"αₚ"},{"t":49.5,"v":4.6,"s":"αₚ"},{"t":49.8,"v":2.9,"s":"αₚ"},{"t":50.2,"v":3.6,"s":"αₚ"},{"t":50.6,"v":2.6,"s":"αₚ"},{"t":51.0,"v":3.3,"s":"αₚ"},{"t":51.3,"v":2.0,"s":"αₚ"},{"t":51.7,"v":4.2,"s":"αₚ"},{"t":52.1,"v":6.5,"s":"αₚ"},{"t":52.4,"v":7.2,"s":"αₚ"},{"t":52.8,"v":6.5,"s":"αₚ"},{"t":53.2,"v":7.8,"s":"αₚ"},{"t":53.4,"v":6.5,"s":"αₚ"},{"t":53.7,"v":4.6,"s":"αₚ"},{"t":54.0,"v":8.5,"s":"αₚ"},{"t":54.2,"v":6.5,"s":"αₚ"},{"t":54.6,"v":4.6,"s":"αₚ"},{"t":55.0,"v":2.9,"s":"αₚ"},{"t":55.3,"v":2.6,"s":"αₚ"},{"t":55.7,"v":2.3,"s":"αₚ"},{"t":56.1,"v":3.9,"s":"αₚ"},{"t":56.4,"v":5.5,"s":"αₚ"},{"t":56.8,"v":6.2,"s":"αₚ"},{"t":57.2,"v":7.5,"s":"αₚ"},{"t":57.6,"v":6.9,"s":"αₚ"},{"t":58.0,"v":5.9,"s":"αₚ"},{"t":58.3,"v":4.6,"s":"αₚ"},{"t":58.7,"v":2.9,"s":"αₚ"},{"t":59.1,"v":1.6,"s":"αₚ"},{"t":59.5,"v":0.65,"s":"αₚ"},{"t":59.9,"v":1.0,"s":"αₚ"}
]
},
"vconcat": [
{
  "width": 811, "height": 166,
  "data": {"name": "top"},
  "encoding": {
    "x": {"field": "t", "type": "quantitative", "scale": {"domain": [0, 60], "nice": false}, "axis": {"labels": false, "title": null, "values": [10, 20, 30, 40, 50]}},
    "y": {"field": "v", "type": "quantitative", "scale": {"domain": [0, 0.25], "nice": false}, "axis": {"values": [0, 0.05, 0.1, 0.15, 0.2, 0.25], "labelExpr": "format(datum.value, '~g')", "labelPadding": 12, "title": "Objective function", "titleFontSize": 16, "titleX": -115, "titleBaseline": "middle"}},
    "color": {"field": "s", "type": "nominal", "scale": {"domain": ["Control On", "Control Off"], "range": ["#000000", "#ea3346"]},
      "legend": {"orient": "none", "legendX": 22, "legendY": 137, "title": null, "symbolType": "M1.2,0H16.7", "symbolSize": 144, "symbolStrokeWidth": 1.2, "labelFont": "DejaVu Sans", "labelFontSize": 17, "labelColor": "#222", "labelOffset": 105, "labelLimit": 500, "padding": 3, "rowPadding": 1, "fillColor": "white", "strokeColor": "#333", "labelExpr": "datum.label + '\u00a0\u00a0\u00a0\u00a0\u00a0\u00a0\u00a0\u00a0\u00a0\u00a0\u00a0\u00a0\u00a0\u00a0\u00a0\u200b'"}}
  },
  "layer": [
    {"transform": [{"filter": "datum.s === 'Control Off'"}], "mark": {"type": "line", "strokeJoin": "round", "strokeWidth": 1.3}},
    {"transform": [{"filter": "datum.s === 'Control On'"}], "mark": {"type": "line", "strokeJoin": "round", "strokeWidth": 2.6}}
  ]
},
{
  "width": 811, "height": 163,
  "data": {"name": "bot"},
  "encoding": {
    "x": {"field": "t", "type": "quantitative", "scale": {"domain": [0, 60], "nice": false}, "axis": {"values": [0, 10, 20, 30, 40, 50, 60], "labelFontSize": 15, "labelPadding": 3, "title": "Time (min)", "titleFont": "DejaVu Sans", "titleFontSize": 16, "titlePadding": 4}},
    "y": {"field": "v", "type": "quantitative", "scale": {"domain": [-20, 12], "nice": false}, "axis": {"values": [-20, -10, 0, 10], "labelPadding": 10, "labelFontSize": 16, "title": "Δ angle (deg)", "titleFontSize": 15, "titleX": -89, "titleBaseline": "middle"}},
    "color": {"field": "s", "type": "nominal", "scale": {"domain": ["α₁", "α₂", "α₃", "αₚ"], "range": ["#f8a02a", "#1f5ec4", "#9b1f4c", "#1c7a34"]},
      "legend": {"orient": "none", "legendX": 453, "legendY": 79, "title": null, "symbolType": "M0.2,0H20.4", "symbolSize": 100, "symbolStrokeWidth": 1.5, "labelFont": "DejaVu Serif", "labelFontStyle": "italic", "labelFontSize": 17, "labelColor": "#222", "labelOffset": 111, "labelLimit": 500, "padding": 2, "rowPadding": 2, "fillColor": "white", "strokeColor": "#333", "labelExpr": "datum.label + '\u00a0\u00a0\u00a0\u00a0\u00a0\u00a0\u00a0\u00a0\u200b'"}}
  },
  "layer": [
    {"transform": [{"filter": "datum.s === 'α₁'"}], "mark": {"type": "line", "strokeJoin": "round", "strokeWidth": 4.5}},
    {"transform": [{"filter": "datum.s !== 'α₁'"}], "mark": {"type": "line", "strokeJoin": "round", "strokeWidth": 3}}
  ]
}
]
}
